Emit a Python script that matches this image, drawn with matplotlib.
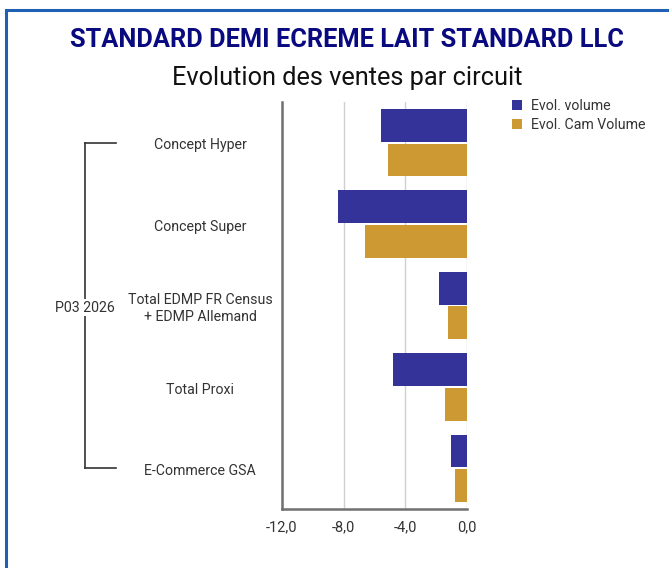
import matplotlib
matplotlib.use("Agg")
import matplotlib.pyplot as plt
import numpy as np
from matplotlib.lines import Line2D
from matplotlib.patches import Rectangle, Patch

plt.rcParams['font.family'] = ['Roboto', 'DejaVu Sans']

categories = ["Concept Hyper", "Concept Super", "Total EDMP FR Census\n+ EDMP Allemand",
              "Total Proxi", "E-Commerce GSA"]
group_label = "P03 2026"
evol_volume = [-5.6, -8.4, -1.8, -4.8, -1.05]
evol_cam_volume = [-5.1, -6.6, -1.25, -1.4, -0.75]
series_names = ["Evol. volume", "Evol. Cam Volume"]
xticks = [-12.0, -8.0, -4.0, 0.0]
title = "STANDARD DEMI ECREME LAIT STANDARD LLC"
subtitle = "Evolution des ventes par circuit"

c_vol = "#343399"
c_cam = "#CD9933"

W, H = 669, 568
fig = plt.figure(figsize=(W / 100, H / 100), dpi=100)

# Blue frame (extends past right/bottom edges)
fig.add_artist(Rectangle((6.5 / W, -0.1), 1.2, (H - 10.5) / H + 0.1,
                         transform=fig.transFigure, fill=False,
                         edgecolor="#1f60b4", linewidth=2.2))

ax_l, ax_r = 282 / W, 467 / W
ax_t, ax_b = 1 - 102 / H, 1 - 509 / H
ax = fig.add_axes([ax_l, ax_b, ax_r - ax_l, ax_t - ax_b])

n = len(categories)
y = np.arange(n)
h = 0.405
gap = 0.02
ax.barh(y - (h + gap) / 2, evol_volume, height=h, color=c_vol, label=series_names[0], zorder=3)
ax.barh(y + (h + gap) / 2, evol_cam_volume, height=h, color=c_cam, label=series_names[1], zorder=3)

ax.set_ylim(n - 0.5, -0.5)
ax.set_xlim(-12, 0)
ax.set_xticks(xticks)
ax.set_xticklabels([f"{v:.1f}".replace(".", ",") for v in xticks], fontsize=10.5, color="#333333")
ax.set_yticks([])
ax.tick_params(axis='x', length=0, pad=8)
ax.grid(axis='x', color="#d0d0d0", linewidth=1, zorder=0)
for s in ["top", "right"]:
    ax.spines[s].set_visible(False)
for s in ["left", "bottom"]:
    ax.spines[s].set_color("#707070")
    ax.spines[s].set_linewidth(1.8)

# Category labels
for i, c in enumerate(categories):
    ax.annotate(c, xy=(0, i), xycoords=("figure fraction", "data"),
                xytext=(200 / W, -2), textcoords=("figure fraction", "offset points"),
                ha="center", va="center", fontsize=10.2, color="#333333",
                linespacing=1.25)

# Bracket
trans = matplotlib.transforms.blended_transform_factory(fig.transFigure, ax.transData)
bx, bx2 = 85 / W, 116 / W
fig.add_artist(Line2D([bx, bx], [0, n - 1], transform=trans, color="#333333", lw=1.2))
fig.add_artist(Line2D([bx, bx2], [0, 0], transform=trans, color="#333333", lw=1.2))
fig.add_artist(Line2D([bx, bx2], [n - 1, n - 1], transform=trans, color="#333333", lw=1.2))
fig.text(bx, ax.transData.transform((0, (n - 1) / 2))[1] / (H) - 2 / H, group_label,
         ha="center", va="center", fontsize=10.2, color="#333333",
         bbox=dict(facecolor="white", edgecolor="none", pad=1))

# Titles
fig.text(347 / W, 1 - 40 / H, title, ha="center", va="center", fontsize=18.3,
         fontweight="bold", color="#0a0a80")
fig.text(347 / W, 1 - 78 / H, subtitle, ha="center", va="center", fontsize=18.3,
         color="#111111")

# Legend
handles = [Patch(facecolor=c_vol, label=series_names[0]),
           Patch(facecolor=c_cam, label=series_names[1])]
fig.legend(handles=handles, loc="upper left", bbox_to_anchor=(499 / W, 1 - 86 / H),
           frameon=False, fontsize=10.2, handlelength=0.75, handleheight=0.75,
           handletextpad=0.6, labelspacing=0.35, labelcolor="#333333")

fig.savefig("out.png", dpi=100)
